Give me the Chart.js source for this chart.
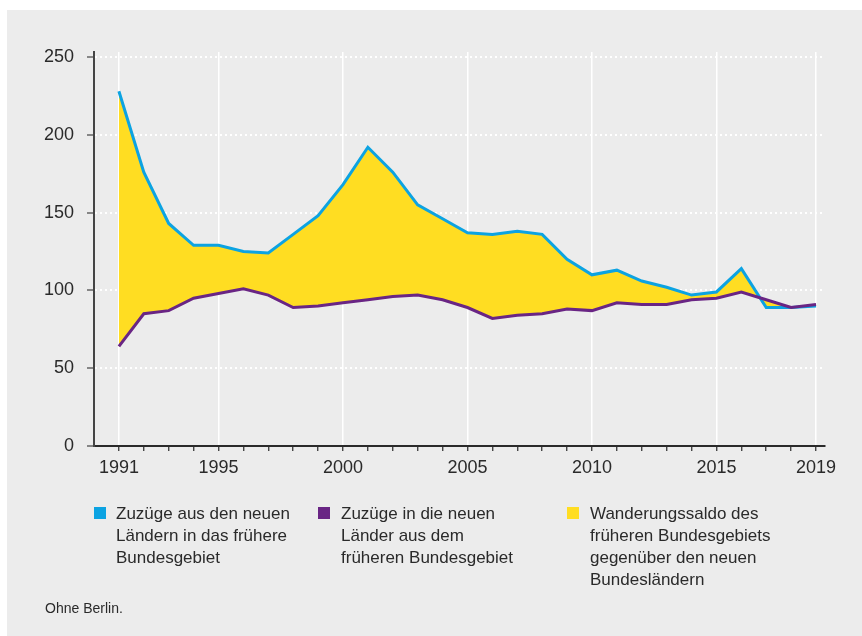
<!DOCTYPE html>
<html lang="de">
<head>
<meta charset="utf-8">
<script src="https://cdn.jsdelivr.net/npm/chart.js@4.4.1/dist/chart.umd.min.js"></script>
<style>
  body { margin: 0; background: #fff; font-family: "Liberation Sans", Arial, Helvetica, sans-serif; color: #2a2a2a; }
  #panel { position: absolute; left: 7px; top: 10px; width: 855px; height: 626px; background: #ececec; }
  #wrap { position: absolute; left: 0; top: 0; width: 862px; height: 636px; }
  .leg { position: absolute; top: 503px; font-size: 17px; line-height: 22px; }
  .leg .box { position: absolute; top: 4px; width: 12px; height: 12px; }
  #note { position: absolute; left: 45px; top: 600px; font-size: 14px; line-height: 16px; }
</style>
</head>
<body>
<div id="panel"></div>
<div id="wrap"><canvas id="chart" width="862" height="636"></canvas></div>

<div class="leg" style="left:116px"><span class="box" style="left:-22px;background:#0ca3e2"></span>Zuzüge aus den neuen<br>Ländern in das frühere<br>Bundesgebiet</div>
<div class="leg" style="left:341px"><span class="box" style="left:-23px;background:#692584"></span>Zuzüge in die neuen<br>Länder aus dem<br>früheren Bundesgebiet</div>
<div class="leg" style="left:590px"><span class="box" style="left:-23px;background:#ffdd22"></span>Wanderungssaldo des<br>früheren Bundesgebiets<br>gegenüber den neuen<br>Bundesländern</div>
<div id="note">Ohne Berlin.</div>

<script>
// Jahre 1991-2019, Werte in Tausend
var jahre = [1991,1992,1993,1994,1995,1996,1997,1998,1999,2000,
             2001,2002,2003,2004,2005,2006,2007,2008,2009,2010,
             2011,2012,2013,2014,2015,2016,2017,2018,2019];
var zuzuege_aus_neuen = [228,176,143,129,129,125,124,136,148,168,
                         192,176,155,146,137,136,138,136,120,110,
                         113,106,102,97,99,114,89,89,90];
var zuzuege_in_neue = [64,85,87,95,98,101,97,89,90,92,
                       94,96,97,94,89,82,84,85,88,87,
                       92,91,91,94,95,99,94,89,91];
var jahre_beschriftet = [1991,1995,2000,2005,2010,2015,2019];
var y_ticks = [0,50,100,150,200,250];

var punkte_aus = [], punkte_in = [];
for (var i = 0; i < jahre.length; i++) {
    punkte_aus.push({x: jahre[i], y: zuzuege_aus_neuen[i]});
    punkte_in.push({x: jahre[i], y: zuzuege_in_neue[i]});
}

var schrift = {family: '"Liberation Sans", Arial, Helvetica, sans-serif', size: 18};

new Chart(document.getElementById('chart'), {
    type: 'line',
    data: {
        datasets: [{
            label: 'Zuzüge in die neuen Länder aus dem früheren Bundesgebiet',
            data: punkte_in,
            borderColor: '#692584',
            borderWidth: 3,
            pointRadius: 0,
            tension: 0,
            fill: false
        }, {
            label: 'Zuzüge aus den neuen Ländern in das frühere Bundesgebiet',
            data: punkte_aus,
            borderColor: '#0ca3e2',
            backgroundColor: '#ffdd22',
            borderWidth: 3,
            pointRadius: 0,
            tension: 0,
            fill: '-1'
        }]
    },
    options: {
        responsive: false,
        animation: false,
        layout: {padding: {left: 0, right: 37, top: 52, bottom: 0}},
        plugins: {legend: {display: false}, tooltip: {enabled: false}},
        scales: {
            x: {
                type: 'linear',
                min: 1990,
                max: 2019.36,
                afterBuildTicks: function(scale) {
                    scale.ticks = jahre.map(function(j) { return {value: j}; });
                },
                afterFit: function(scale) { scale.height = 190; },
                ticks: {
                    autoSkip: false,
                    maxRotation: 0,
                    padding: 6,
                    color: '#2a2a2a',
                    font: schrift,
                    callback: function(v) {
                        return jahre_beschriftet.indexOf(v) >= 0 ? String(v) : '';
                    }
                },
                grid: {
                    color: function(ctx) {
                        return ctx.tick && jahre_beschriftet.indexOf(ctx.tick.value) >= 0 ? '#ffffff' : 'rgba(0,0,0,0)';
                    },
                    lineWidth: 1.5,
                    tickColor: '#2a2a2a',
                    tickLength: 5,
                    tickWidth: 1.2
                },
                border: {color: '#2a2a2a', width: 2}
            },
            y: {
                min: 0,
                max: 253.2,
                afterBuildTicks: function(scale) {
                    scale.ticks = y_ticks.map(function(v) { return {value: v}; });
                },
                afterFit: function(scale) { scale.width = 94; },
                ticks: {
                    padding: 13,
                    color: '#2a2a2a',
                    font: schrift
                },
                grid: {
                    color: '#ffffff',
                    lineWidth: 2,
                    tickColor: '#444444',
                    tickLength: 7,
                    tickWidth: 1.2
                },
                border: {color: '#444444', width: 2, dash: [2, 3]}
            }
        }
    }
});
</script>
</body>
</html>
